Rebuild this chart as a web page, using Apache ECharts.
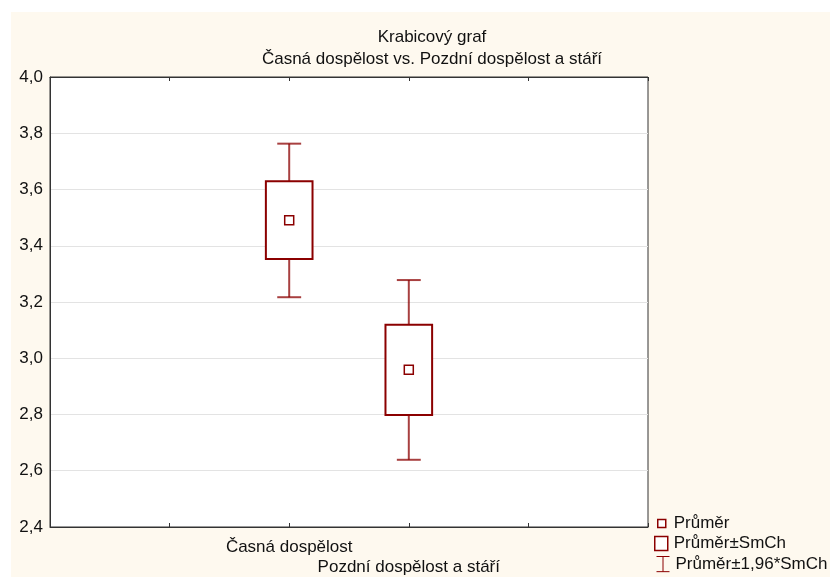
<!DOCTYPE html>
<html>
<head>
<meta charset="UTF-8">
<title>Krabicový graf</title>
<script src="https://cdn.jsdelivr.net/npm/echarts@6/dist/echarts.min.js"></script>
<style>
  * { margin: 0; padding: 0; }
  #app { width: 830px; height: 577px; }
</style>
</head>
<body>
<div id="app"></div>
<script>
var groups = ['Časná dospělost', 'Pozdní dospělost a stáří'];
var groupPos = [2, 3];
var means = [3.491, 2.959];
var seLow = [3.353, 2.798];
var seHigh = [3.629, 3.119];
var ciLow = [3.217, 2.639];
var ciHigh = [3.763, 3.278];
var legendNames = ['Průměr', 'Průměr±SmCh', 'Průměr±1,96*SmCh'];

var red = '#8b0000';
var font = 'Liberation Sans, Arial, sans-serif';

var myChart = echarts.init(document.getElementById('app'));

var meanData = groupPos.map(function (x, i) { return [x, means[i]]; });
var boxData = groupPos.map(function (x, i) { return [x, seLow[i], seHigh[i]]; });
var whiskerData = groupPos.map(function (x, i) { return [x, ciLow[i], ciHigh[i], seLow[i], seHigh[i]]; });

function renderBox(params, api) {
  var x = api.value(0);
  var lo = api.coord([x, api.value(1)]);
  var hi = api.coord([x, api.value(2)]);
  var w = api.size([1, 0])[0] * 0.39;
  return {
    type: 'rect',
    shape: { x: lo[0] - w / 2, y: hi[1], width: w, height: lo[1] - hi[1] },
    style: { fill: '#fff', stroke: red, lineWidth: 2 }
  };
}

function renderWhisker(params, api) {
  var x = api.value(0);
  var lo = api.coord([x, api.value(1)]);
  var hi = api.coord([x, api.value(2)]);
  var bLo = api.coord([x, api.value(3)]);
  var bHi = api.coord([x, api.value(4)]);
  var c = api.size([1, 0])[0] * 0.2;
  var st = { stroke: red, lineWidth: 2, opacity: 0.75 };
  return {
    type: 'group',
    children: [
      { type: 'line', shape: { x1: hi[0], y1: hi[1], x2: bHi[0], y2: bHi[1] }, style: st },
      { type: 'line', shape: { x1: lo[0], y1: lo[1], x2: bLo[0], y2: bLo[1] }, style: st },
      { type: 'line', shape: { x1: hi[0] - c / 2, y1: hi[1], x2: hi[0] + c / 2, y2: hi[1] }, style: st },
      { type: 'line', shape: { x1: lo[0] - c / 2, y1: lo[1], x2: lo[0] + c / 2, y2: lo[1] }, style: st }
    ]
  };
}

function legendText(padLeft) {
  return { fontFamily: font, fontSize: 17, color: '#111', padding: [0, 0, 0, padLeft] };
}

option = {
  backgroundColor: '#fff',
  animation: false,
  graphic: [{
    type: 'rect', z: -10, silent: true,
    shape: { x: 11, y: 12, width: 819, height: 565 },
    style: { fill: '#fef9ef' }
  }],
  title: {
    text: 'Krabicový graf\nČasná dospělost vs. Pozdní dospělost a stáří',
    left: 432, top: 26, textAlign: 'center', padding: 0,
    textStyle: { fontFamily: font, fontSize: 17, fontWeight: 'normal', color: '#111', lineHeight: 22 }
  },
  legend: [{
    data: [{ name: legendNames[0], icon: 'rect' }],
    left: 657, top: 515, padding: 0, itemWidth: 8, itemHeight: 8,
    itemStyle: { color: '#fff', borderColor: red, borderWidth: 1.5 },
    textStyle: legendText(3), selectedMode: false
  }, {
    data: [{ name: legendNames[1], icon: 'rect' }],
    left: 654, top: 535, padding: 0, itemWidth: 13, itemHeight: 14,
    itemStyle: { color: '#fff', borderColor: red, borderWidth: 1.5 },
    textStyle: legendText(1), selectedMode: false
  }, {
    data: [{ name: legendNames[2], icon: 'path://M0,0 L12,0 M6,0 L6,14 M0,14 L12,14' }],
    left: 654, top: 554, padding: 0, itemWidth: 13, itemHeight: 16,
    itemStyle: { color: 'none', borderColor: red, borderWidth: 1 },
    textStyle: legendText(1), selectedMode: false
  }],
  grid: {
    left: 50, right: 182, top: 77, bottom: 50,
    show: true, backgroundColor: '#fff', borderColor: '#333', borderWidth: 1
  },
  xAxis: [{
    type: 'value', min: 0, max: 5, interval: 1, position: 'bottom',
    axisLine: { show: true, lineStyle: { color: '#333' } },
    axisTick: { show: true, inside: true, length: 4, lineStyle: { color: '#333' } },
    splitLine: { show: false },
    axisLabel: {
      margin: 10, fontFamily: font, fontSize: 17, color: '#111', lineHeight: 20,
      showMinLabel: true, showMaxLabel: true,
      formatter: function (v) {
        var i = groupPos.indexOf(v);
        if (i < 0) return '';
        return i % 2 === 1 ? '\n' + groups[i] : groups[i];
      }
    }
  }, {
    type: 'value', min: 0, max: 5, interval: 1, position: 'top',
    axisLine: { show: true, lineStyle: { color: '#333' } },
    axisTick: { show: true, inside: true, length: 4, lineStyle: { color: '#333' } },
    splitLine: { show: false },
    axisLabel: { show: false }
  }],
  yAxis: [{
    type: 'value', min: 2.4, max: 4.0, interval: 0.2,
    axisLine: { show: true, lineStyle: { color: '#333' } },
    axisTick: { show: false },
    splitLine: { show: true, lineStyle: { color: '#e3e3e3', width: 1 } },
    axisLabel: {
      margin: 7, fontFamily: font, fontSize: 17, color: '#111',
      formatter: function (v) { return v.toFixed(1).replace('.', ','); }
    }
  }],
  series: [{
    name: legendNames[2],
    type: 'custom',
    renderItem: renderWhisker,
    encode: { x: 0, y: [1, 2] },
    data: whiskerData,
    z: 3
  }, {
    name: legendNames[1],
    type: 'custom',
    renderItem: renderBox,
    encode: { x: 0, y: [1, 2] },
    data: boxData,
    z: 4
  }, {
    name: legendNames[0],
    type: 'scatter',
    symbol: 'rect',
    symbolSize: 9,
    itemStyle: { color: '#fff', borderColor: red, borderWidth: 1.5, opacity: 1 },
    data: meanData,
    z: 5
  }]
};

myChart.setOption(option);
</script>
</body>
</html>
